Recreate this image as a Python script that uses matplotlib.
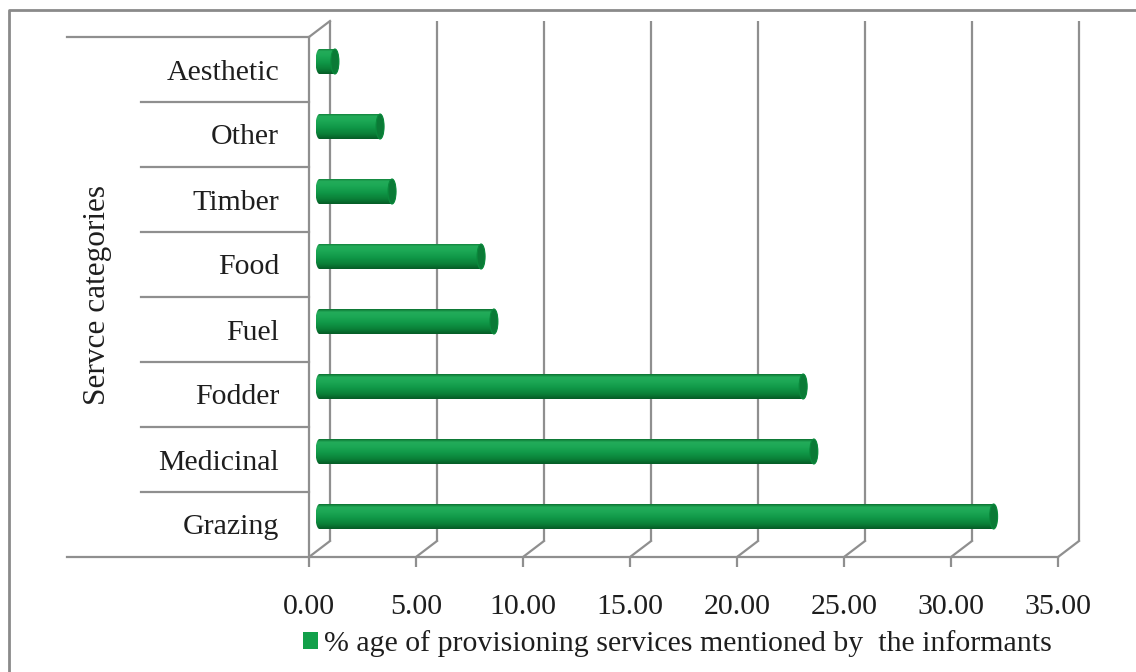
import numpy as np
import matplotlib
matplotlib.use("Agg")
import matplotlib.pyplot as plt
from matplotlib.patches import PathPatch, Ellipse, Patch
from matplotlib.path import Path
from matplotlib.lines import Line2D

# Service categories (bottom to top) and share mentioned by informants (%)
categories = ["Grazing", "Medicinal", "Fodder", "Fuel", "Food", "Timber", "Other", "Aesthetic"]
percent = [31.5, 23.1, 22.6, 8.15, 7.55, 3.39, 2.83, 0.72]
x_ticks = [0, 5, 10, 15, 20, 25, 30, 35]
x_tick_labels = [f"{t:.2f}" for t in x_ticks]
legend_label = "% age of provisioning services mentioned by  the informants"
y_title = "Servce categories"

plt.rcParams["font.family"] = ["Liberation Serif", "DejaVu Serif"]
TEXT = "#1e1e1e"
GRID = "#8f8f8f"
FS = 21.5

W, H = 1136, 672
fig = plt.figure(figsize=(W / 100, H / 100), dpi=100)
fig.patch.set_facecolor("white")

# front plane of the 3-D frame
left_px, right_px, top_px, bot_px = 309, 1058, 37, 557
ax = fig.add_axes([left_px / W, 1 - bot_px / H, (right_px - left_px) / W, (bot_px - top_px) / H])
xmin, xmax = 0, 35
ymin, ymax = -0.5, len(categories) - 0.5
ax.set_xlim(xmin, xmax)
ax.set_ylim(ymin, ymax)

# pixel -> data conversion for the depth offset
ux = (xmax - xmin) / (right_px - left_px)
uy = (ymax - ymin) / (bot_px - top_px)
DX, DY = 21 * ux, 16 * uy

lw_grid = 1.6
# back wall gridlines
for t in x_ticks:
    ax.plot([t + DX, t + DX], [ymin + DY, ymax + DY], color=GRID, lw=lw_grid,
            clip_on=False, zorder=1, solid_capstyle="butt")
    # floor depth lines
    ax.plot([t, t + DX], [ymin, ymin + DY], color=GRID, lw=lw_grid, clip_on=False, zorder=1)
# left wall top edge
ax.plot([0, DX], [ymax, ymax + DY], color=GRID, lw=lw_grid, clip_on=False, zorder=1)

# front baseline extended under the category labels
ax.plot([(67 - left_px) * ux, xmax], [ymin, ymin], color=GRID, lw=lw_grid, clip_on=False, zorder=2)
# top border of category area
ax.plot([(67 - left_px) * ux, 0], [ymax, ymax], color=GRID, lw=lw_grid, clip_on=False, zorder=2)
# category separators
for k in range(len(categories) - 1):
    ax.plot([(141 - left_px) * ux, 0], [k + 0.5, k + 0.5], color=GRID, lw=lw_grid,
            clip_on=False, zorder=2)

# cylinder gradient (top to bottom)
stops = np.array([0.0, 0.12, 0.3, 0.55, 0.8, 1.0])
cols = np.array([
    [12, 115, 50],
    [35, 172, 90],
    [28, 168, 85],
    [16, 152, 72],
    [10, 128, 56],
    [5, 92, 38],
]) / 255.0
tt = np.linspace(0, 1, 64)
grad = np.stack([np.interp(tt, stops, cols[:, c]) for c in range(3)], axis=1)[:, None, :]

bar_h = 25 * uy
cap_a = 4 * ux
hh = bar_h / 2
theta = np.linspace(np.pi / 2, 3 * np.pi / 2, 40)
for i, v in enumerate(percent):
    yc = i + DY / 2
    x0 = DX / 2
    x1 = v + DX / 2
    left = np.column_stack([x0 + cap_a * np.cos(theta), yc + hh * np.sin(theta)])
    right = np.column_stack([x1 + cap_a * np.cos(theta + np.pi), yc + hh * np.sin(theta + np.pi)])
    verts = np.vstack([left, right, left[:1]])
    path = Path(verts, closed=True)
    outline = PathPatch(path, facecolor="none", edgecolor="none", transform=ax.transData)
    ax.add_patch(outline)
    img = ax.imshow(grad, extent=(x0 - cap_a, x1 + cap_a, yc - hh, yc + hh), aspect="auto",
                    interpolation="bilinear", zorder=3)
    img.set_clip_path(outline)
    cap = Ellipse((x1, yc), 2 * cap_a, 2 * hh, facecolor="#0b7a36", edgecolor="#0a8a3c",
                  lw=0.8, zorder=4)
    ax.add_patch(cap)

ax.set_xlim(xmin, xmax)
ax.set_ylim(ymin, ymax)

# axes: front left edge and ticks
for s in ["top", "right", "bottom"]:
    ax.spines[s].set_visible(False)
ax.spines["left"].set_color(GRID)
ax.spines["left"].set_linewidth(lw_grid)
ax.set_facecolor("none")

ax.set_xticks(x_ticks)
ax.set_xticklabels(x_tick_labels, fontsize=FS, color=TEXT)
ax.tick_params(axis="x", direction="out", length=7, width=lw_grid, color=GRID, pad=19.5)
ax.set_yticks(range(len(categories)))
ax.set_yticklabels(categories, fontsize=FS, color=TEXT)
ax.tick_params(axis="y", length=0, pad=21.5)

fig.text(98 / W, 1 - 295 / H, y_title, rotation=90, ha="center", va="center",
         fontsize=FS + 1, color=TEXT)

handle = Patch(facecolor="#12a04a", edgecolor="none")
fig.legend([handle], [legend_label], loc="center", bbox_to_anchor=(677 / W, 1 - 644 / H),
           frameon=False, fontsize=FS, handlelength=0.5, handleheight=0.5,
           handletextpad=0.2, labelcolor=TEXT)

# outer frame (top and left edges)
fig.add_artist(Line2D([9 / W, 9 / W, 1], [0, 1 - 10 / H, 1 - 10 / H], transform=fig.transFigure,
                      color="#8a8a8a", lw=2))

fig.savefig("out.png", dpi=100, facecolor="white")
